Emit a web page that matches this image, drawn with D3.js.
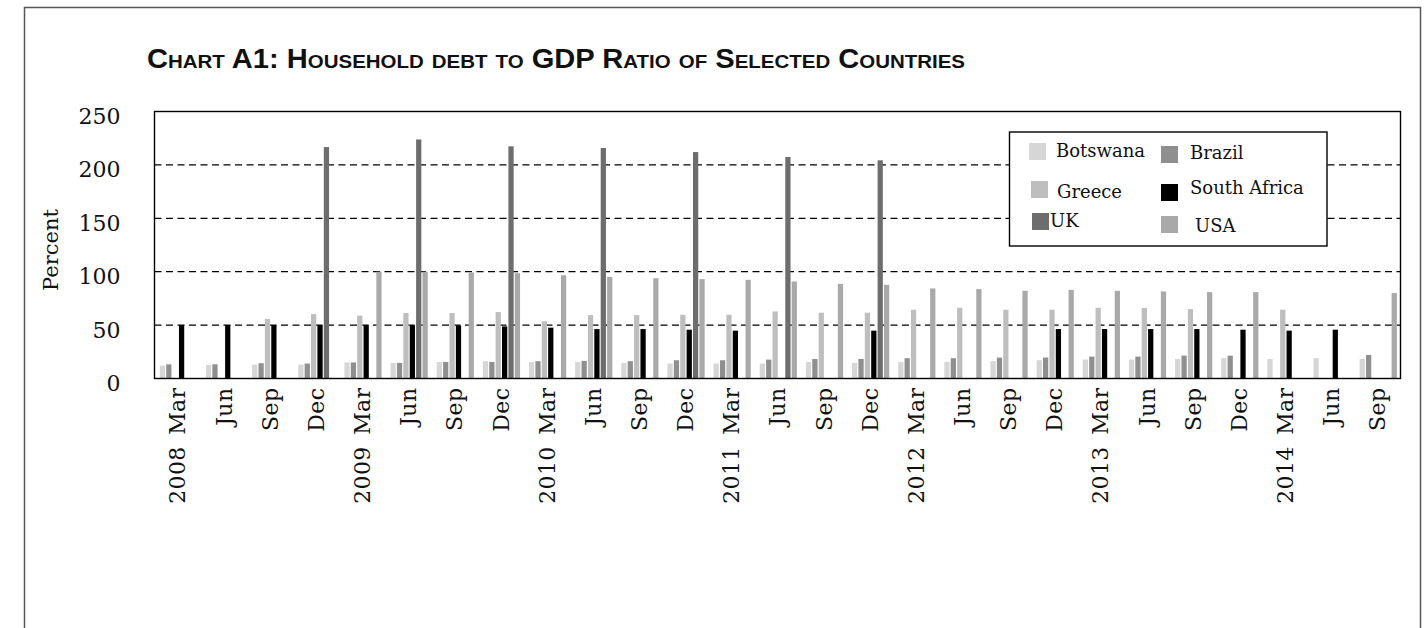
<!DOCTYPE html>
<html>
<head>
<meta charset="utf-8">
<script src="https://cdn.jsdelivr.net/npm/d3@7"></script>
<style>
  html, body { margin: 0; padding: 0; background: #fff; }
  svg { display: block; }
</style>
</head>
<body>
<svg id="chart" width="1427" height="628"></svg>
<script>
// Quarterly household debt to GDP ratios, percent (null = no observation)
const quarters = [
  "2008 Mar", "Jun", "Sep", "Dec",
  "2009 Mar", "Jun", "Sep", "Dec",
  "2010 Mar", "Jun", "Sep", "Dec",
  "2011 Mar", "Jun", "Sep", "Dec",
  "2012 Mar", "Jun", "Sep", "Dec",
  "2013 Mar", "Jun", "Sep", "Dec",
  "2014 Mar", "Jun", "Sep"
];
const seriesNames = ["Botswana", "Brazil", "Greece", "South Africa", "UK", "USA"];

const botswana = [12, 12.7, 13, 13, 15, 14.6, 15.5, 16.2, 15.5, 15.5, 14.6, 14, 14, 14,
  15.5, 14.6, 15.5, 15.5, 16.2, 17.1, 17.7, 17.7, 18.3, 19, 18.3, 19, 18.3];
const brazil = [13.3, 13.3, 14.3, 14, 15, 14.6, 15.5, 15.5, 16.2, 16.5, 16.2, 17.1, 17.1, 17.7,
  18.3, 18.3, 19, 19, 19.6, 19.6, 20.5, 20.5, 21.4, 21.4, null, null, 22];
const greece = [null, null, 55.7, 60.3, 58.8, 61.3, 61.3, 62.2, 53.5, 59.4, 59.4, 59.7, 59.7, 62.8,
  61.6, 61.6, 64.4, 66.2, 64.4, 64.4, 66.2, 66, 65, null, 64.4, null, null];
const southAfrica = [50, 50, 50, 50, 50, 50, 49.7, 48.8, 47.6, 46.3, 46.3, 45.7, 44.8, null,
  null, 44.8, null, null, null, 46.3, 46.3, 46.3, 46.3, 45.7, 44.8, 45.7, null];
const uk = [null, null, null, 216.7, null, 223.8, null, 217.4, null, 215.8, null, 212, null, 207.4,
  null, 204.3, null, null, null, null, null, null, null, null, null, null, null];
const usa = [null, null, null, null, 100, 100, 99.2, 98.6, 96.7, 95.1, 93.9, 93, 92.4, 90.8,
  88.6, 87.7, 84.3, 83.7, 82.1, 83, 82.1, 81.5, 80.9, 80.9, null, null, 80];

const yTicks = [0, 50, 100, 150, 200, 250];

const seriesValues = [botswana, brazil, greece, southAfrica, uk, usa];
const colors = ["#d6d6d6", "#8f8f8f", "#bebebe", "#000000", "#6d6d6d", "#a9a9a9"];

const svg = d3.select("#chart");
const serif = "'DejaVu Serif', serif";

// Outer frame (top, left, right)
svg.append("path")
  .attr("d", "M24.5,628 V7.5 H1420.5 V628")
  .attr("fill", "none")
  .attr("stroke", "#555")
  .attr("stroke-width", 1.5);

// Title: bold small caps, squeezed to a condensed look
svg.append("text")
  .attr("x", 147)
  .attr("y", 68)
  .attr("textLength", 818)
  .attr("lengthAdjust", "spacingAndGlyphs")
  .style("font-family", "'Liberation Sans', Arial, sans-serif")
  .style("font-weight", "bold")
  .style("font-variant", "small-caps")
  .style("font-size", "27px")
  .attr("fill", "#111")
  .text("Chart A1: Household debt to GDP Ratio of Selected Countries");

// Plot area
const plot = { left: 154.5, right: 1400.5, top: 111.5, bottom: 378.5 };

const x0 = d3.scaleBand()
  .domain(d3.range(quarters.length))
  .range([plot.left, plot.right])
  .padding(0);

const x1 = d3.scaleBand()
  .domain(seriesNames)
  .range([5.3, 5.3 + 6 * 6.2])
  .paddingInner(0.18);

const y = d3.scaleLinear().domain([0, 250]).range([plot.bottom, plot.top]);

// Dashed gridlines
svg.append("g")
  .selectAll("line")
  .data(yTicks.filter(t => t > 0 && t < 250))
  .join("line")
  .attr("x1", plot.left)
  .attr("x2", plot.right)
  .attr("y1", d => y(d))
  .attr("y2", d => y(d))
  .attr("stroke", "#000")
  .attr("stroke-width", 1.3)
  .attr("stroke-dasharray", "7,4.5");

// Bars
const rows = [];
quarters.forEach((q, i) => {
  seriesNames.forEach((s, k) => {
    const v = seriesValues[k][i];
    if (v != null) rows.push({ i, s, k, v });
  });
});

svg.append("g")
  .selectAll("rect")
  .data(rows)
  .join("rect")
  .attr("x", d => x0(d.i) + x1(d.s))
  .attr("width", x1.bandwidth())
  .attr("y", d => y(d.v))
  .attr("height", d => y(0) - y(d.v))
  .attr("fill", d => colors[d.k]);

// Plot frame
svg.append("rect")
  .attr("x", plot.left)
  .attr("y", plot.top)
  .attr("width", plot.right - plot.left)
  .attr("height", plot.bottom - plot.top)
  .attr("fill", "none")
  .attr("stroke", "#000")
  .attr("stroke-width", 1.4);

// Y axis labels
const yAxis = d3.axisLeft(y).tickValues(yTicks).tickSize(0).tickPadding(34);
const gy = svg.append("g")
  .attr("transform", `translate(${plot.left},0)`)
  .call(yAxis);
gy.select(".domain").remove();
gy.selectAll("text")
  .attr("dy", null)
  .attr("y", 12)
  .style("font-family", serif)
  .style("font-size", "22px")
  .attr("fill", "#111");

svg.append("text")
  .attr("transform", "translate(57.5,250) rotate(-90)")
  .attr("text-anchor", "middle")
  .style("font-family", serif)
  .style("font-size", "21px")
  .attr("fill", "#111")
  .text("Percent");

// X axis labels (rotated, year and month separated by a wider gap)
const xAxis = d3.axisBottom(x0).tickSize(0).tickFormat(i => quarters[i].replace(" ", "\u2002"));
const gx = svg.append("g")
  .attr("transform", `translate(0,${plot.bottom})`)
  .call(xAxis);
gx.select(".domain").remove();
gx.selectAll("text")
  .attr("transform", "rotate(-90)")
  .attr("x", -9)
  .attr("y", 0)
  .attr("dy", "0.36em")
  .attr("text-anchor", "end")
  .style("font-family", serif)
  .style("font-size", "22px")
  .style("letter-spacing", "0.4px")
  .attr("fill", "#111");

// Legend
const legend = svg.append("g");
legend.append("rect")
  .attr("x", 1009.5)
  .attr("y", 132)
  .attr("width", 317.5)
  .attr("height", 114)
  .attr("fill", "#fff")
  .attr("stroke", "#000")
  .attr("stroke-width", 1.4);

const legendLayout = [
  { sx: 1029, sy: 143, tx: 1056, ty: 157 },
  { sx: 1161, sy: 146, tx: 1190, ty: 159 },
  { sx: 1031, sy: 181, tx: 1057, ty: 198 },
  { sx: 1161, sy: 184, tx: 1190, ty: 194 },
  { sx: 1032, sy: 213, tx: 1050, ty: 227 },
  { sx: 1161, sy: 216, tx: 1195, ty: 232 }
];

seriesNames.forEach((name, k) => {
  const p = legendLayout[k];
  legend.append("rect")
    .attr("x", p.sx)
    .attr("y", p.sy)
    .attr("width", 17)
    .attr("height", 17)
    .attr("fill", colors[k]);
  legend.append("text")
    .attr("x", p.tx)
    .attr("y", p.ty)
    .style("font-family", serif)
    .style("font-size", "18px")
    .attr("fill", "#111")
    .text(name);
});
</script>
</body>
</html>
